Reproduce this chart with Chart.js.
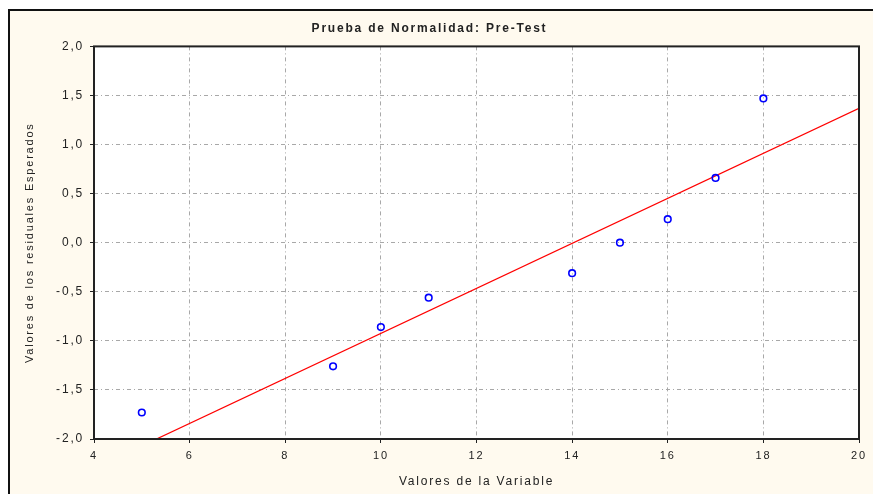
<!DOCTYPE html>
<html>
<head>
<meta charset="utf-8">
<script src="https://cdn.jsdelivr.net/npm/chart.js@4/dist/chart.umd.min.js"></script>
<style>
  html, body { margin: 0; padding: 0; background: #ffffff; }
  #wrap { position: relative; width: 873px; height: 494px; overflow: hidden; }
  #frame { position: absolute; left: 8px; top: 9px; right: 0; bottom: 0;
           background: #fffaef; border-left: 2px solid #111; border-top: 2px solid #111; }
  #c { position: absolute; left: 0; top: 0; }
</style>
</head>
<body>
<div id="wrap">
  <div id="frame"></div>
  <canvas id="c" width="873" height="494"></canvas>
</div>
<script>
// Observed data (Valores de la Variable vs expected normal values)
const variableValues = [5, 9, 10, 11, 14, 15, 16, 17, 18];
const expectedValues = [-1.73, -1.26, -0.86, -0.56, -0.31, 0.0, 0.24, 0.66, 1.47];
// Reference (fit) line endpoints
const fitLineX = [4, 20];
const fitLineY = [-2.30, 1.37];
// Axis ticks
const xTicks = [4, 6, 8, 10, 12, 14, 16, 18, 20];
const yTicks = [-2.0, -1.5, -1.0, -0.5, 0.0, 0.5, 1.0, 1.5, 2.0];

const chartTitle = 'Prueba de Normalidad: Pre-Test';
const xTitle = 'Valores de la Variable';
const yTitle = 'Valores de los residuales Esperados';

const FONT = "'Liberation Sans', Arial, sans-serif";
const TXT = '#222222';
const SPACING = '1.8px';

const framePlugin = {
  id: 'framePlugin',
  beforeUpdate(chart) { chart.ctx.letterSpacing = SPACING; },
  beforeDraw(chart) {
    const a = chart.chartArea, ctx = chart.ctx;
    ctx.letterSpacing = SPACING;
    ctx.save();
    ctx.fillStyle = '#ffffff';
    ctx.fillRect(a.left, a.top, a.right - a.left, a.bottom - a.top);
    ctx.restore();
  },
  afterDraw(chart) {
    const a = chart.chartArea, ctx = chart.ctx;
    ctx.save();
    ctx.strokeStyle = '#222222';
    ctx.lineWidth = 2;
    ctx.strokeRect(a.left, a.top, a.right - a.left, a.bottom - a.top);
    ctx.restore();
  }
};

new Chart(document.getElementById('c'), {
  type: 'scatter',
  data: {
    datasets: [
      {
        type: 'line',
        label: 'fit',
        data: fitLineX.map((x, i) => ({ x: x, y: fitLineY[i] })),
        borderColor: '#ff0000',
        borderWidth: 1.2,
        pointRadius: 0,
        fill: false,
        tension: 0,
        order: 2
      },
      {
        label: 'data',
        data: variableValues.map((x, i) => ({ x: x, y: expectedValues[i] })),
        borderColor: '#0000ff',
        backgroundColor: 'rgba(0,0,0,0)',
        pointRadius: 3.3,
        pointBorderWidth: 1.6,
        pointHoverRadius: 3.3,
        order: 1
      }
    ]
  },
  options: {
    responsive: false,
    animation: false,
    devicePixelRatio: 1,
    layout: { padding: { left: 0, right: 14, top: 0, bottom: 0 } },
    plugins: {
      legend: { display: false },
      tooltip: { enabled: false },
      title: {
        display: true,
        text: chartTitle,
        color: TXT,
        font: { family: FONT, size: 12, weight: 'bold' },
        padding: { top: 21, bottom: 11 }
      }
    },
    scales: {
      x: {
        type: 'linear',
        min: 4, max: 20,
        afterBuildTicks(scale) { scale.ticks = xTicks.map(v => ({ value: v })); },
        afterFit(scale) { scale.height = 55; },
        ticks: {
          color: TXT,
          font: { family: FONT, size: 11 },
          padding: 6,
          maxRotation: 0,
          callback: v => String(v)
        },
        grid: {
          color: '#a8a8a8',
          lineWidth: 1,
          tickLength: 4,
          tickColor: '#222222',
          tickBorderDash: []
        },
        border: { display: false, dash: [4, 3, 1, 3] },
        title: {
          display: true,
          text: xTitle,
          color: TXT,
          font: { family: FONT, size: 12 },
          padding: { top: 5, bottom: 5 }
        }
      },
      y: {
        type: 'linear',
        min: -2, max: 2,
        afterBuildTicks(scale) { scale.ticks = yTicks.map(v => ({ value: v })); },
        afterFit(scale) { scale.width = 94; },
        ticks: {
          color: TXT,
          font: { family: FONT, size: 12 },
          padding: 6,
          callback: v => Number(v).toFixed(1).replace('.', ',')
        },
        grid: {
          color: '#a8a8a8',
          lineWidth: 1,
          tickLength: 4,
          tickColor: '#222222',
          tickBorderDash: []
        },
        border: { display: false, dash: [4, 3, 1, 3] },
        title: {
          display: true,
          text: yTitle,
          color: TXT,
          font: { family: FONT, size: 11 },
          padding: { top: 23, bottom: 23 }
        }
      }
    }
  },
  plugins: [framePlugin]
});
</script>
</body>
</html>
